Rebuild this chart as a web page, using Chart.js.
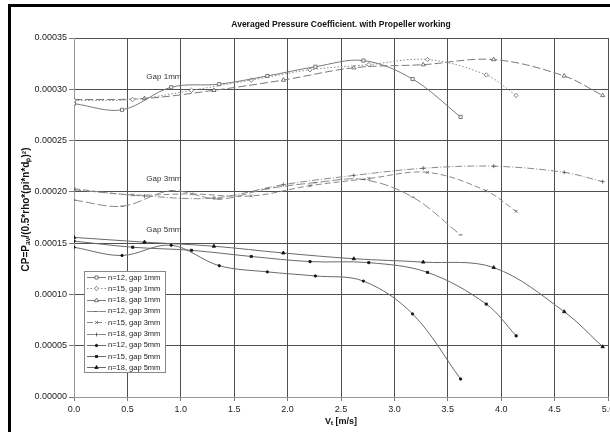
<!DOCTYPE html>
<html>
<head>
<meta charset="utf-8">
<script src="https://cdn.jsdelivr.net/npm/chart.js@4/dist/chart.umd.min.js"></script>
<style>
html,body{margin:0;padding:0;background:#fff;overflow:hidden;width:610px;height:432px;}
canvas{display:block;}
</style>
</head>
<body>
<canvas id="c" width="640" height="432"></canvas>
<script>
// ---- data ----
const vtN12 = [0, 0.45, 0.91, 1.36, 1.81, 2.26, 2.71, 3.17, 3.62];
const vtN15 = [0, 0.55, 1.10, 1.66, 2.21, 2.76, 3.31, 3.86, 4.14];
const vtN18 = [0, 0.66, 1.31, 1.96, 2.62, 3.27, 3.93, 4.59, 4.95];

const cpN12Gap1 = [0.000286, 0.000280, 0.000302, 0.000305, 0.000313, 0.000322, 0.000328, 0.000310, 0.000273];
const cpN15Gap1 = [0.000289, 0.000290, 0.000299, 0.000309, 0.000319, 0.000324, 0.000329, 0.000314, 0.000294];
const cpN18Gap1 = [0.000290, 0.000291, 0.000299, 0.000309, 0.000321, 0.000324, 0.000329, 0.000313, 0.000294];

const cpN12Gap3 = [0.000192, 0.000186, 0.000201, 0.000193, 0.000203, 0.000209, 0.000212, 0.000195, 0.000158];
const cpN15Gap3 = [0.000203, 0.000197, 0.000198, 0.000196, 0.000206, 0.000213, 0.000219, 0.000201, 0.000181];
const cpN18Gap3 = [0.000202, 0.000196, 0.000194, 0.000207, 0.000216, 0.000223, 0.000225, 0.000219, 0.000210];

const cpN12Gap5 = [0.000146, 0.000138, 0.000148, 0.000128, 0.000122, 0.000118, 0.000113, 0.000081, 0.0000175];
const cpN15Gap5 = [0.000152, 0.000146, 0.000143, 0.000137, 0.000132, 0.000131, 0.0001215, 0.0000906, 0.0000596];
const cpN18Gap5 = [0.0001556, 0.000151, 0.000147, 0.0001404, 0.0001348, 0.0001315, 0.0001262, 0.0000832, 0.000049];

const seriesLabels = [
  'n=12, gap 1mm','n=15, gap 1mm','n=18, gap 1mm',
  'n=12, gap 3mm','n=15, gap 3mm','n=18, gap 3mm',
  'n=12, gap 5mm','n=15, gap 5mm','n=18, gap 5mm'
];
const groupLabels = ['Gap 1mm','Gap 3mm','Gap 5mm'];
const groupLabelValues = [0.000312, 0.000213, 0.000163];
const groupLabelVt = [0.28, 0.28, 0.28];

const titleText = 'Averaged Pressure Coefficient. with Propeller working';
const yTitle = 'CP=Pₐᵥ/(0.5*rho*(pi*n*dₚ)²)';
const xTitle = 'Vₜ [m/s]';

// ---- build datasets ----
function pts(xs, ys){ return xs.map((x,i)=>({x:x, y:ys[i]})); }
const FONT = '"Liberation Sans", Arial, sans-serif';
const styleList = [
  {c:'#7a7a7a', dash:[], ps:'rect', r:2.2, fill:'#fff', pc:'#555'},
  {c:'#8a8a8a', dash:[1.5,2], ps:'rectRot', r:2.2, fill:'#fff', pc:'#666'},
  {c:'#7a7a7a', dash:[8,3], ps:'triangle', r:2.4, fill:'#fff', pc:'#555'},
  {c:'#8a8a8a', dash:[9,3], ps:'line', r:2, fill:'#555', pc:'#555'},
  {c:'#8a8a8a', dash:[6,3], ps:'crossRot', r:2, fill:'#555', pc:'#555'},
  {c:'#8a8a8a', dash:[7,2,1,2], ps:'cross', r:2, fill:'#555', pc:'#555'},
  {c:'#6a6a6a', dash:[], ps:'circle', r:1.2, fill:'#111', pc:'#111'},
  {c:'#6a6a6a', dash:[], ps:'rect', r:1.5, fill:'#111', pc:'#111'},
  {c:'#6a6a6a', dash:[], ps:'triangle', r:2, fill:'#111', pc:'#111'}
];
const xsList = [vtN12, vtN15, vtN18, vtN12, vtN15, vtN18, vtN12, vtN15, vtN18];
const ysList = [cpN12Gap1, cpN15Gap1, cpN18Gap1, cpN12Gap3, cpN15Gap3, cpN18Gap3, cpN12Gap5, cpN15Gap5, cpN18Gap5];

const datasets = seriesLabels.map((lab,i)=>{
  const s = styleList[i];
  return {
    label: lab,
    data: pts(xsList[i], ysList[i]),
    borderColor: s.c,
    borderWidth: 1,
    borderDash: s.dash,
    pointStyle: s.ps,
    pointRadius: s.r,
    pointBackgroundColor: s.fill,
    pointBorderColor: s.pc,
    pointBorderWidth: 0.8,
    tension: 0.35,
    fill: false
  };
});

const decor = {
  id: 'decor',
  beforeDraw(chart){
    const ctx = chart.ctx;
    ctx.save();
    ctx.fillStyle = '#fff';
    ctx.fillRect(0,0,chart.width,chart.height);
    ctx.fillStyle = '#000';
    ctx.fillRect(8,4,chart.width,3);
    ctx.fillRect(8,4,3,chart.height);
    ctx.restore();
  },
  afterDatasetsDraw(chart){
    const ctx = chart.ctx;
    const xs = chart.scales.x, ys = chart.scales.y;
    const ca = chart.chartArea;
    ctx.save();
    // title
    ctx.fillStyle = '#111';
    ctx.font = 'bold 8.5px ' + FONT;
    ctx.textAlign = 'center';
    ctx.textBaseline = 'middle';
    ctx.fillText(titleText, (ca.left+ca.right)/2, 25);
    // x title
    ctx.font = 'bold 9px ' + FONT;
    ctx.fillText(xTitle, (ca.left+ca.right)/2, 422);
    // y title
    ctx.save();
    ctx.font = 'bold 10px ' + FONT;
    ctx.translate(26, (ca.top+ca.bottom)/2 - 8);
    ctx.rotate(-Math.PI/2);
    ctx.fillText(yTitle, 0, 0);
    ctx.restore();
    // group labels
    ctx.font = '8px ' + FONT;
    ctx.fillStyle = '#333';
    groupLabels.forEach((g,i)=>{
      ctx.fillText(g, xs.getPixelForValue(groupLabelVt[i]) + 60, ys.getPixelForValue(groupLabelValues[i]));
    });
    // legend
    const bx = 84, by = 271, bw = 81, bh = 101;
    ctx.fillStyle = '#fff';
    ctx.fillRect(bx, by, bw, bh);
    ctx.strokeStyle = '#888';
    ctx.lineWidth = 1;
    ctx.strokeRect(bx+0.5, by+0.5, bw, bh);
    ctx.font = '7.5px ' + FONT;
    ctx.textAlign = 'left';
    chart.data.datasets.forEach((d,i)=>{
      const y = by + 6 + i*11.3;
      ctx.save();
      ctx.strokeStyle = d.borderColor;
      ctx.lineWidth = 1;
      ctx.setLineDash(d.borderDash);
      ctx.beginPath();
      ctx.moveTo(bx+3, Math.round(y)+0.5);
      ctx.lineTo(bx+22, Math.round(y)+0.5);
      ctx.stroke();
      ctx.setLineDash([]);
      ctx.fillStyle = d.pointBackgroundColor;
      ctx.strokeStyle = d.pointBorderColor;
      ctx.lineWidth = 0.8;
      Chart.helpers.drawPoint(ctx, {pointStyle: d.pointStyle, radius: d.pointRadius, rotation: 0, borderWidth: 0.8}, bx+12.5, Math.round(y)+0.5);
      ctx.restore();
      ctx.fillStyle = '#222';
      ctx.fillText(d.label, bx+24, y+0.5);
    });
    ctx.restore();
  }
};

Chart.defaults.font.family = FONT;
new Chart(document.getElementById('c'), {
  type: 'line',
  data: { datasets: datasets },
  options: {
    responsive: false,
    animation: false,
    devicePixelRatio: 1,
    layout: { padding: { left: 0, top: 38, right: 32, bottom: 0 } },
    plugins: { legend: { display: false }, tooltip: { enabled: false }, title: { display: false } },
    scales: {
      x: {
        type: 'linear', min: 0, max: 5,
        ticks: { stepSize: 0.5, color: '#222', font: { size: 9 }, padding: 3, maxRotation: 0,
                 callback: v => Number(v).toFixed(1) },
        grid: { color: '#505050', lineWidth: 1, tickLength: 4, tickColor: '#777' },
        border: { color: '#999', width: 1 },
        afterFit(s){ s.height = 35; }
      },
      y: {
        type: 'linear', min: 0, max: 0.00035,
        ticks: { stepSize: 0.00005, color: '#222', font: { size: 9 }, padding: 2,
                 callback: v => Number(v).toFixed(5) },
        grid: { color: '#505050', lineWidth: 1, tickLength: 5, tickColor: '#777' },
        border: { color: '#999', width: 1 },
        afterFit(s){ s.width = 74; }
      }
    }
  },
  plugins: [decor]
});
</script>
</body>
</html>
